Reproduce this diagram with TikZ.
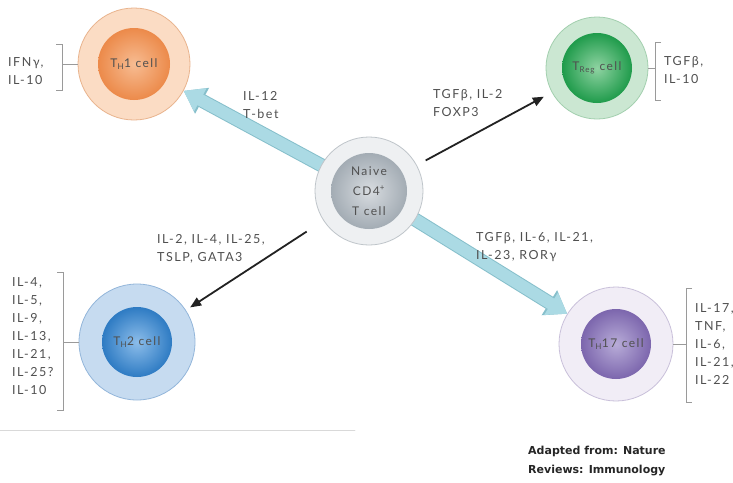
\documentclass[tikz,border=0pt]{standalone}
\usepackage{fontspec}
\usetikzlibrary{arrows.meta}
\newfontfamily\labelfont{Lato}[LetterSpace=12]
\newfontfamily\creditfont{DejaVu Sans}

\definecolor{thonering}{HTML}{FBDCC4}
\definecolor{thoneedge}{HTML}{E9B48E}
\definecolor{thonelight}{HTML}{F7BC92}
\definecolor{thonedark}{HTML}{EC8A4A}
\definecolor{tregring}{HTML}{CBE7D2}
\definecolor{tregedge}{HTML}{A2CFAE}
\definecolor{treglight}{HTML}{8FD3A2}
\definecolor{tregdark}{HTML}{1F9B4B}
\definecolor{naivering}{HTML}{EEF0F2}
\definecolor{naiveedge}{HTML}{BFC5CA}
\definecolor{naivelight}{HTML}{D8DCE0}
\definecolor{naivedark}{HTML}{A3ACB4}
\definecolor{thtwring}{HTML}{C6DBF0}
\definecolor{thtwedge}{HTML}{93B6DA}
\definecolor{thtwlight}{HTML}{8CBDEA}
\definecolor{thtwdark}{HTML}{2E7BC3}
\definecolor{thsvring}{HTML}{F1EDF6}
\definecolor{thsvedge}{HTML}{C9C0DA}
\definecolor{thsvlight}{HTML}{B8ACD8}
\definecolor{thsvdark}{HTML}{7C66AD}
\definecolor{arrowblue}{HTML}{ABDAE4}
\definecolor{arrowedge}{HTML}{86BFCB}
\definecolor{arrowblack}{HTML}{222222}
\definecolor{textgray}{HTML}{505050}
\definecolor{bracketgray}{HTML}{9A9A9A}

\pgfdeclarelayer{back}
\pgfsetlayers{back,main}

\begin{document}
\begin{tikzpicture}[x=1pt,y=-1pt,cap=round]
% Styles
\tikzstyle{ring}=[circle,inner sep=0pt,line width=0.8pt]
\tikzstyle{core}=[circle,inner sep=0pt,text=textgray,align=center,font=\labelfont\fontsize{12}{20}\selectfont]
\tikzstyle{cytokines}=[anchor=west,inner sep=0pt,text=textgray,font=\labelfont\fontsize{12.5}{18}\selectfont]
\tikzstyle{bracket}=[draw=bracketgray,line width=0.7pt,cap=butt]
\tikzstyle{thin arrow}=[draw=arrowblack,line width=1.8pt,cap=butt,-{Triangle[length=11pt,width=9pt]}]
\tikzstyle{fat arrow}=[draw=arrowblue,line width=12pt,cap=butt,-{Triangle[length=19pt,width=25pt]},preaction={draw=arrowedge,line width=14pt,-{Triangle[length=21pt,width=28pt]}}]

\useasboundingbox (0,0) rectangle (733,482);

% draw the cells
\node[ring,fill=naivering,draw=naiveedge,minimum size=108] (naive) at (369,191) {};
\node[core,inner color=naivelight,outer color=naivedark,minimum size=76] (naivecore) at (naive) {Naive\\CD4\textsuperscript{+}\\T cell};

\node[ring,fill=thonering,draw=thoneedge,minimum size=112] (th1) at (134,64) {};
\node[core,inner color=thonelight,outer color=thonedark,minimum size=72] (th1core) at (th1) {T\textsubscript{H}1 cell};

\node[ring,fill=tregring,draw=tregedge,minimum size=102] (treg) at (597,68) {};
\node[core,inner color=treglight,outer color=tregdark,minimum size=70] (tregcore) at (treg) {T\textsubscript{Reg} cell};

\node[ring,fill=thtwring,draw=thtwedge,minimum size=116] (th2) at (137,342) {};
\node[core,inner color=thtwlight,outer color=thtwdark,minimum size=70] (th2core) at (th2) {T\textsubscript{H}2 cell};

\node[ring,fill=thsvring,draw=thsvedge,minimum size=114] (th17) at (616,344) {};
\node[core,inner color=thsvlight,outer color=thsvdark,minimum size=70] (th17core) at (th17) {T\textsubscript{H}17 cell};

% differentiation paths
\begin{pgfonlayer}{back}
\fill[white] (0,0) rectangle (733,482);
\draw[fat arrow,shorten <=-8pt] (naive) -- (th1);
\draw[fat arrow,shorten <=-8pt] (naive) -- (th17);
\end{pgfonlayer}
\draw[thin arrow,shorten <=10pt,shorten >=9pt] (naive) -- (treg);
\draw[thin arrow,shorten <=20pt,shorten >=5pt] (naive) -- (th2);

% signals on the paths
\node[cytokines] (th1signal) at (243,106) {\begin{tabular}{@{}l@{}}IL-12\\T-bet\end{tabular}};
\node[cytokines] (tregsignal) at (433,104) {\begin{tabular}{@{}l@{}}TGFβ, IL-2\\FOXP3\end{tabular}};
\node[cytokines] (th2signal) at (157,249) {\begin{tabular}{@{}l@{}}IL-2, IL-4, IL-25,\\TSLP, GATA3\end{tabular}};
\node[cytokines] (th17signal) at (476,247) {\begin{tabular}{@{}l@{}}TGFβ, IL-6, IL-21,\\IL-23, RORγ\end{tabular}};

% secreted cytokines
\node[cytokines] (th1list) at (8,72) {\begin{tabular}{@{}l@{}}IFNγ,\\IL-10\end{tabular}};
\coordinate (th1brace) at (62,64);
\draw[bracket] (56,44) -- (62,44) -- (62,90) -- (56,90);
\draw[bracket] (th1brace) -- (th1.west);

\node[cytokines] (treglist) at (664,71) {\begin{tabular}{@{}l@{}}TGFβ,\\IL-10\end{tabular}};
\coordinate (tregbrace) at (655,68);
\draw[bracket] (661,42) -- (655,42) -- (655,100) -- (661,100);
\draw[bracket] (treg.east) -- (tregbrace);

\node[cytokines] (th2list) at (12,337) {\begin{tabular}{@{}l@{}}IL-4,\\IL-5,\\IL-9,\\IL-13,\\IL-21,\\IL-25?\\IL-10\end{tabular}};
\coordinate (th2brace) at (63,342);
\draw[bracket] (57,272) -- (63,272) -- (63,410) -- (57,410);
\draw[bracket] (th2brace) -- (th2.west);

\node[cytokines] (th17list) at (695,345) {\begin{tabular}{@{}l@{}}IL-17,\\TNF,\\IL-6,\\IL-21,\\IL-22\end{tabular}};
\coordinate (th17brace) at (686,344);
\draw[bracket] (692,288) -- (686,288) -- (686,402) -- (692,402);
\draw[bracket] (th17.east) -- (th17brace);

% source
\draw[draw=black!15,line width=0.8pt] (0,430) -- (355,430);
\node[anchor=west,inner sep=0pt,align=left,text=black!85,font=\creditfont\bfseries\fontsize{11}{18}\selectfont] (credit) at (528,461) {Adapted from: Nature\\Reviews: Immunology};

\end{tikzpicture}
\end{document}
